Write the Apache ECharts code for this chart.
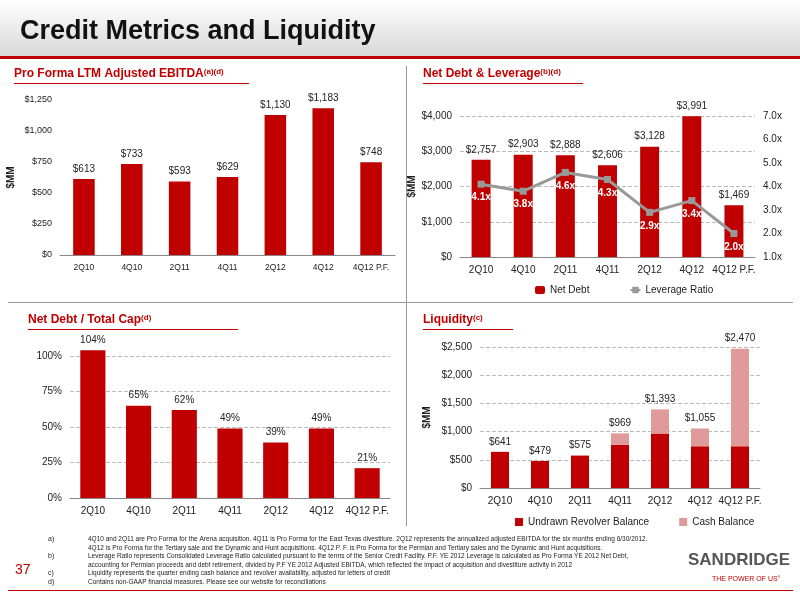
<!DOCTYPE html>
<html><head><meta charset="utf-8">
<script src="https://cdn.jsdelivr.net/npm/echarts@6/dist/echarts.min.js"></script>
<style>body{margin:0}#c{width:800px;height:600px}</style></head>
<body><div id="c"></div>
<script>
const categories = ['2Q10','4Q10','2Q11','4Q11','2Q12','4Q12','4Q12 P.F.'];
const ebitda = [613,733,593,629,1130,1183,748];
const netDebt = [2757,2903,2888,2606,3128,3991,1469];
const leverage = [4.1,3.8,4.6,4.3,2.9,3.4,2.0];
const debtCap = [104,65,62,49,39,49,21];
const undrawn = [641,479,575,765,965,740,740];
const cash = [0,0,0,204,428,315,1730];
const liqTotal = [641,479,575,969,1393,1055,2470];

const RED='#C00000', PINK='#E09A9A', F='Arial, Liberation Sans, sans-serif';
const fmt = v => '$'+v.toLocaleString('en-US');
const axL = {fontSize:10,color:'#222',fontFamily:F};
const split = {lineStyle:{type:'dashed',color:'#bbb'}};
const grids=[
 {left:60,right:405,top:100,bottom:345},
 {left:460,right:45,top:116,bottom:343},
 {left:70,right:410,top:356,bottom:102},
 {left:480,right:40,top:347,bottom:112}];
const xa = i => ({type:'category',gridIndex:i,data:categories,axisTick:{show:false},axisLine:{lineStyle:{color:'#888'}},axisLabel:Object.assign({},axL,{interval:0,fontSize:i===0?8.5:10})});
const chart=echarts.init(document.getElementById('c'));
chart.setOption({
 animation:false,
 textStyle:{fontFamily:F},
 grid:grids,
 xAxis:[xa(0),xa(1),xa(2),xa(3)],
 yAxis:[
  {gridIndex:0,min:0,max:1250,interval:250,axisLabel:Object.assign({formatter:v=>fmt(v)},axL,{fontSize:9}),splitLine:{show:false},axisLine:{show:false},name:'$MM',nameLocation:'middle',nameGap:44,nameTextStyle:{fontWeight:'bold',fontSize:10,color:'#222'}},
  {gridIndex:1,min:0,max:4000,interval:1000,axisLabel:Object.assign({formatter:v=>fmt(v)},axL),splitLine:split,name:'$MM',nameLocation:'middle',nameGap:40,nameTextStyle:{fontWeight:'bold',fontSize:10,color:'#222'}},
  {gridIndex:1,min:1,max:7,interval:1,position:'right',axisLabel:Object.assign({formatter:v=>v.toFixed(1)+'x'},axL),splitLine:{show:false}},
  {gridIndex:2,min:0,max:100,interval:25,axisLabel:Object.assign({formatter:'{value}%'},axL),splitLine:split},
  {gridIndex:3,min:0,max:2500,interval:500,axisLabel:Object.assign({formatter:v=>fmt(v)},axL),splitLine:split,name:'$MM',nameLocation:'middle',nameGap:48,nameTextStyle:{fontWeight:'bold',fontSize:10,color:'#222'}}
 ],
 legend:[
  {data:['Net Debt','Leverage Ratio'],left:530,top:280,itemWidth:10,itemHeight:8,textStyle:{fontSize:10,color:'#222'},itemGap:40},
  {data:['Undrawn Revolver Balance','Cash Balance'],left:510,top:512,itemWidth:8,itemHeight:8,icon:'rect',textStyle:{fontSize:10,color:'#222'},itemGap:30}
 ],
 series:[
  {type:'bar',xAxisIndex:0,yAxisIndex:0,data:ebitda,barWidth:'45%',itemStyle:{color:RED},label:{show:true,position:'top',formatter:p=>fmt(p.value),fontSize:10,color:'#222'}},
  {name:'Net Debt',type:'bar',xAxisIndex:1,yAxisIndex:1,data:netDebt,barWidth:'45%',itemStyle:{color:RED},label:{show:true,position:'top',formatter:p=>fmt(p.value),fontSize:10,color:'#222'}},
  {name:'Leverage Ratio',type:'line',xAxisIndex:1,yAxisIndex:2,data:leverage,symbol:'rect',symbolSize:7,itemStyle:{color:'#999'},lineStyle:{color:'#999',width:3},label:{show:true,position:'bottom',formatter:p=>p.value.toFixed(1)+'x',color:'#fff',fontWeight:'bold',fontSize:10}},
  {type:'bar',xAxisIndex:2,yAxisIndex:3,data:debtCap,clip:false,barWidth:'55%',itemStyle:{color:RED},label:{show:true,position:'top',formatter:'{c}%',fontSize:10,color:'#222'}},
  {name:'Undrawn Revolver Balance',type:'bar',stack:'l',xAxisIndex:3,yAxisIndex:4,data:undrawn,barWidth:'45%',itemStyle:{color:RED}},
  {name:'Cash Balance',type:'bar',stack:'l',xAxisIndex:3,yAxisIndex:4,data:cash,barWidth:'45%',itemStyle:{color:PINK},label:{show:true,position:'top',formatter:p=>fmt(liqTotal[p.dataIndex]),fontSize:10,color:'#222'}}
 ],
 graphic:[
  {type:'rect',shape:{x:0,y:0,width:800,height:56},style:{fill:new echarts.graphic.LinearGradient(0,0,0,1,[{offset:0,color:'#fff'},{offset:1,color:'#d8d8d8'}])}},
  {type:'rect',shape:{x:0,y:56,width:800,height:3},style:{fill:RED}},
  {type:'text',left:20,top:18,style:{text:'Credit Metrics and Liquidity',font:'bold 27px '+F,fill:'#111'}},
  {type:'text',left:14,top:68,style:{rich:{a:{font:'bold 12px '+F,fill:RED},s:{font:'bold 8px '+F,fill:RED,verticalAlign:'top'}},text:'{a|Pro Forma LTM Adjusted EBITDA}{s|(a)(d)}'}},
  {type:'rect',shape:{x:14,y:83,width:235,height:1},style:{fill:RED}},
  {type:'text',left:423,top:68,style:{rich:{a:{font:'bold 12px '+F,fill:RED},s:{font:'bold 8px '+F,fill:RED,verticalAlign:'top'}},text:'{a|Net Debt & Leverage}{s|(b)(d)}'}},
  {type:'rect',shape:{x:423,y:83,width:160,height:1},style:{fill:RED}},
  {type:'text',left:28,top:314,style:{rich:{a:{font:'bold 12px '+F,fill:RED},s:{font:'bold 8px '+F,fill:RED,verticalAlign:'top'}},text:'{a|Net Debt / Total Cap}{s|(d)}'}},
  {type:'rect',shape:{x:28,y:329,width:210,height:1},style:{fill:RED}},
  {type:'text',left:423,top:314,style:{rich:{a:{font:'bold 12px '+F,fill:RED},s:{font:'bold 8px '+F,fill:RED,verticalAlign:'top'}},text:'{a|Liquidity}{s|(c)}'}},
  {type:'rect',shape:{x:423,y:329,width:90,height:1},style:{fill:RED}},
  {type:'rect',shape:{x:406,y:66,width:1,height:460},style:{fill:'#999'}},
  {type:'rect',shape:{x:8,y:302,width:785,height:1},style:{fill:'#999'}},
  {type:'text',left:15,top:563,style:{text:'37',font:'14px '+F,fill:RED}},
  {type:'text',left:48,top:535,style:{text:'a)\n\nb)\n\nc)\nd)',font:'7px '+F,fill:'#222',lineHeight:8.5}},
  {type:'text',left:88,top:535,style:{text:'4Q10 and 2Q11 are Pro Forma for the Arena acquisition. 4Q11 is Pro Forma for the East Texas divestiture. 2Q12 represents the annualized adjusted EBITDA for the six months ending 6/30/2012.\n4Q12 is Pro Forma for the Tertiary sale and the Dynamic and Hunt acquisitions. 4Q12 P. F. is Pro Forma for the Permian and Tertiary sales and the Dynamic and Hunt acquisitions.\nLeverage Ratio represents Consolidated Leverage Ratio calculated pursuant to the terms of the Senior Credit Facility. P.F. YE 2012 Leverage is calculated as Pro Forma YE 2012 Net Debt,\naccounting for Permian proceeds and debt retirement, divided by P.F YE 2012 Adjusted EBITDA, which reflected the impact of acquisition and divestiture activity in 2012\nLiquidity represents the quarter ending cash balance and revolver availability, adjusted for letters of credit\nContains non-GAAP financial measures. Please see our website for reconciliations',font:'6.5px '+F,fill:'#222',lineHeight:8.5}},
  {type:'text',left:688,top:552,style:{text:'SANDRIDGE',font:'bold 17px '+F,fill:'#555'}},
  {type:'text',left:712,top:576,style:{text:'THE POWER OF US°',font:'7px '+F,fill:RED}},
  {type:'rect',shape:{x:8,y:590,width:785,height:1},style:{fill:RED}}
 ]
});
</script></body></html>
